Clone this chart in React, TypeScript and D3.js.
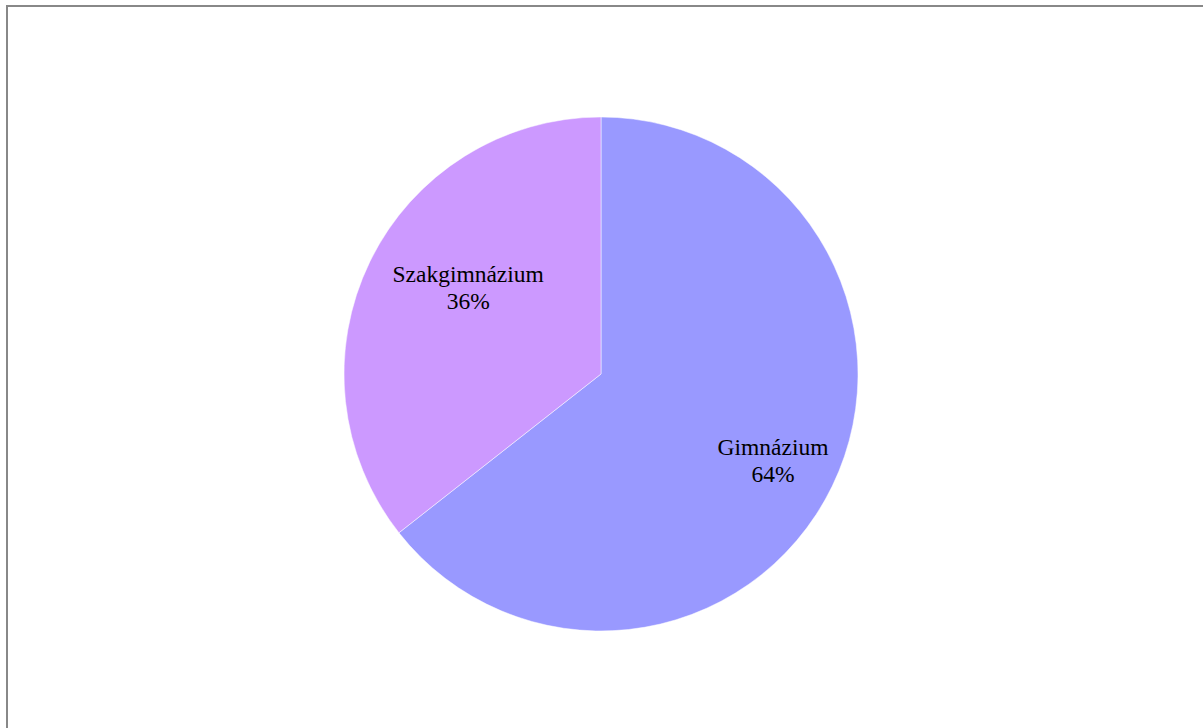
import React from "react";
import * as d3 from "d3";

const categories = ["Gimnázium", "Szakgimnázium"];
const values = [64.4, 35.6];
const colors = ["#9999FF", "#CC99FF"];
const labelRadiusFrac = [0.747, 0.62];
const labelAngleOffsetDeg = [0.4, 7.6];

export default function App() {
  const W = 1203, H = 728;
  const cx = 601, cy = 374, r = 257;
  const total = d3.sum(values);
  const pie = d3.pie<number>().sort(null).value(d => d);
  const arcs = pie(values);
  const arcGen = d3.arc<d3.PieArcDatum<number>>().innerRadius(0).outerRadius(r);
  const fs = 23.5;
  return (
    <svg width={W} height={H} style={{ position: "absolute", left: 0, top: 0, background: "#fff" }}>
      <rect x={7} y={6} width={1300} height={800} fill="#fff" stroke="#888" strokeWidth={2} />
      <g transform={`translate(${cx},${cy})`}>
        {arcs.map((a, i) => (
          <path key={i} d={arcGen(a) || ""} fill={colors[i]} stroke="#fff" strokeWidth={0.5} />
        ))}
        {arcs.map((a, i) => {
          const mid = (a.startAngle + a.endAngle) / 2 + (labelAngleOffsetDeg[i] * Math.PI) / 180;
          const lr = r * labelRadiusFrac[i];
          const x = Math.sin(mid) * lr;
          const y = -Math.cos(mid) * lr;
          const pct = Math.round((values[i] / total) * 100) + "%";
          return (
            <text key={"t" + i} x={x} y={y} textAnchor="middle"
              style={{ fontFamily: "'Liberation Serif', 'Times New Roman', serif", fontSize: fs, fill: "#000" }}>
              <tspan x={x} dy={-4}>{categories[i]}</tspan>
              <tspan x={x} dy={26.5}>{pct}</tspan>
            </text>
          );
        })}
      </g>
    </svg>
  );
}
